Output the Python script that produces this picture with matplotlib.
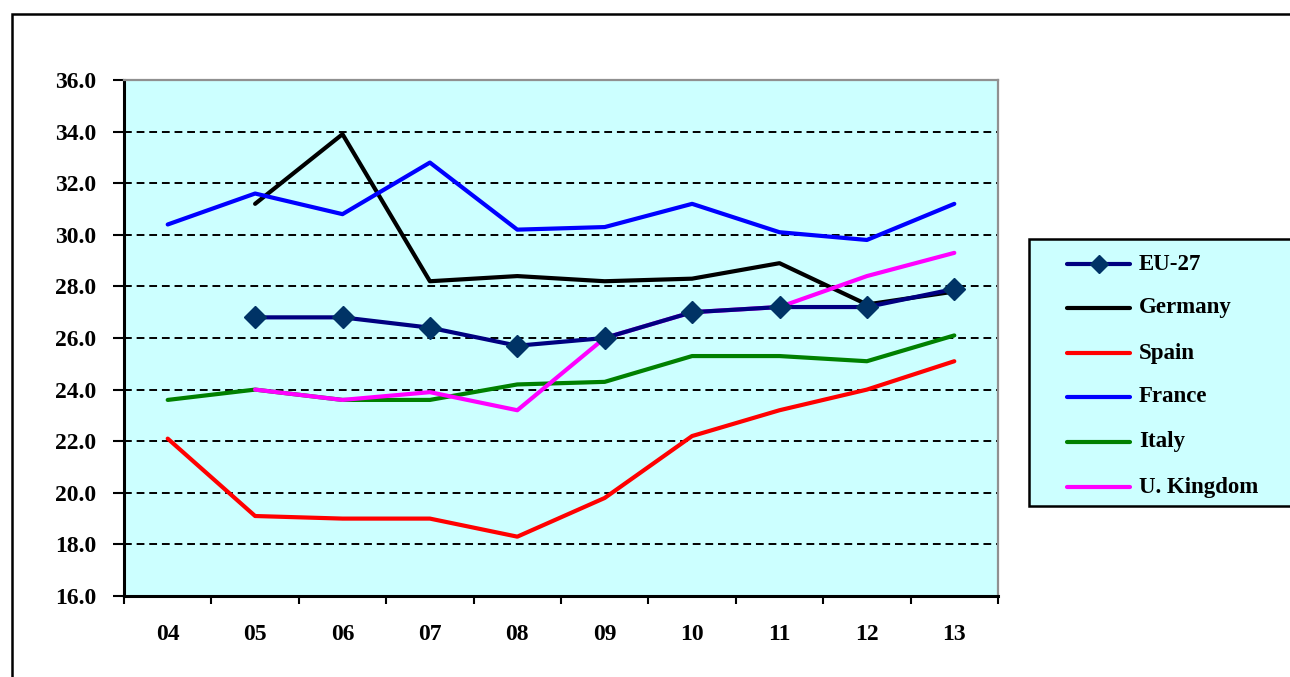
import matplotlib
matplotlib.use("Agg")
import matplotlib.pyplot as plt
from matplotlib.patches import Rectangle
from matplotlib.lines import Line2D

years = ["04", "05", "06", "07", "08", "09", "10", "11", "12", "13"]
eu27 = [None, 26.8, 26.8, 26.4, 25.7, 26.0, 27.0, 27.2, 27.2, 27.9]
germany = [None, 31.2, 33.9, 28.2, 28.4, 28.2, 28.3, 28.9, 27.3, 27.8]
spain = [22.1, 19.1, 19.0, 19.0, 18.3, 19.8, 22.2, 23.2, 24.0, 25.1]
france = [30.4, 31.6, 30.8, 32.8, 30.2, 30.3, 31.2, 30.1, 29.8, 31.2]
italy = [23.6, 24.0, 23.6, 23.6, 24.2, 24.3, 25.3, 25.3, 25.1, 26.1]
uk = [None, 24.0, 23.6, 23.9, 23.2, 26.0, 27.0, 27.2, 28.4, 29.3]
yticks = [16, 18, 20, 22, 24, 26, 28, 30, 32, 34, 36]

plt.rcParams['font.family'] = ['Liberation Serif', 'DejaVu Serif']
plt.rcParams['font.weight'] = 'bold'

fig = plt.figure(figsize=(12.9, 6.77), dpi=100)
W, H = 1290, 677
# outer chart frame
fig.patches.append(Rectangle((12 / W, -0.1), 1.2, (H - 14) / H + 0.1,
                             transform=fig.transFigure, fill=False,
                             edgecolor='black', linewidth=1.8))

ax = fig.add_axes([124 / W, (H - 596) / H, (998 - 124) / W, (596 - 80) / H])
ax.set_facecolor('#CCFFFF')

x = list(range(len(years)))

def pts(vals):
    xs = [i for i, v in zip(x, vals) if v is not None]
    ys = [v for v in vals if v is not None]
    return xs, ys

lw = 3.0
series = [
    ("EU-27", eu27, '#000080'),
    ("Germany", germany, '#000000'),
    ("Spain", spain, '#FF0000'),
    ("France", france, '#0000FF'),
    ("Italy", italy, '#008000'),
    ("U. Kingdom", uk, '#FF00FF'),
]
for name, vals, col in series:
    xs, ys = pts(vals)
    if name == "EU-27":
        ax.plot(xs, ys, color=col, lw=lw, marker='D', markersize=11,
                markerfacecolor='#003366', markeredgecolor='#003366', zorder=4)
    else:
        ax.plot(xs, ys, color=col, lw=lw, zorder=3, solid_capstyle='round')

ax.set_xlim(-0.5, len(years) - 0.5)
ax.set_ylim(16, 36)
ax.set_yticks(yticks)
ax.set_yticklabels([f"{v:.1f}" for v in yticks], fontsize=17, fontweight='bold')
ax.yaxis.grid(True, color='black', linestyle=(0, (4, 2.5)), linewidth=1.4)
ax.set_axisbelow(True)

ax.set_xticks([i - 0.5 for i in range(len(years) + 1)])
ax.set_xticklabels([])
ax.set_xticks(x, minor=True)
ax.set_xticklabels(years, minor=True, fontsize=17, fontweight='bold')
ax.tick_params(axis='x', which='minor', length=0, pad=20)
ax.tick_params(axis='x', which='major', length=6, width=1.5, direction='out')
ax.tick_params(axis='y', length=8, width=1.5, direction='out', pad=12)

for s in ['left', 'bottom']:
    ax.spines[s].set_linewidth(2.2)
    ax.spines[s].set_color('black')
for s in ['top', 'right']:
    ax.spines[s].set_linewidth(1.6)
    ax.spines[s].set_color('#909090')

# legend box (extends past right edge of the image, as in the reference)
fig.patches.append(Rectangle((1029 / W, (H - 506) / H), 300 / W, (506 - 239) / H,
                             transform=fig.transFigure, facecolor='#CCFFFF',
                             edgecolor='black', linewidth=1.8, zorder=5))
row_y = [264, 308, 353, 397, 442, 487]
for (name, vals, col), yy in zip(series, row_y):
    fy = (H - yy) / H
    fig.add_artist(Line2D([1067 / W, 1130 / W], [fy, fy], transform=fig.transFigure,
                          color=col, lw=lw, solid_capstyle='round', zorder=6))
    if name == "EU-27":
        fig.add_artist(Line2D([1098.5 / W], [fy], transform=fig.transFigure,
                              marker='D', markersize=9, color='#003366',
                              linestyle='none', zorder=7))
    fig.text(1139 / W, fy, name, ha='left', va='center', fontsize=16.5,
             fontweight='bold', zorder=7)

fig.savefig("out.png", dpi=100)
